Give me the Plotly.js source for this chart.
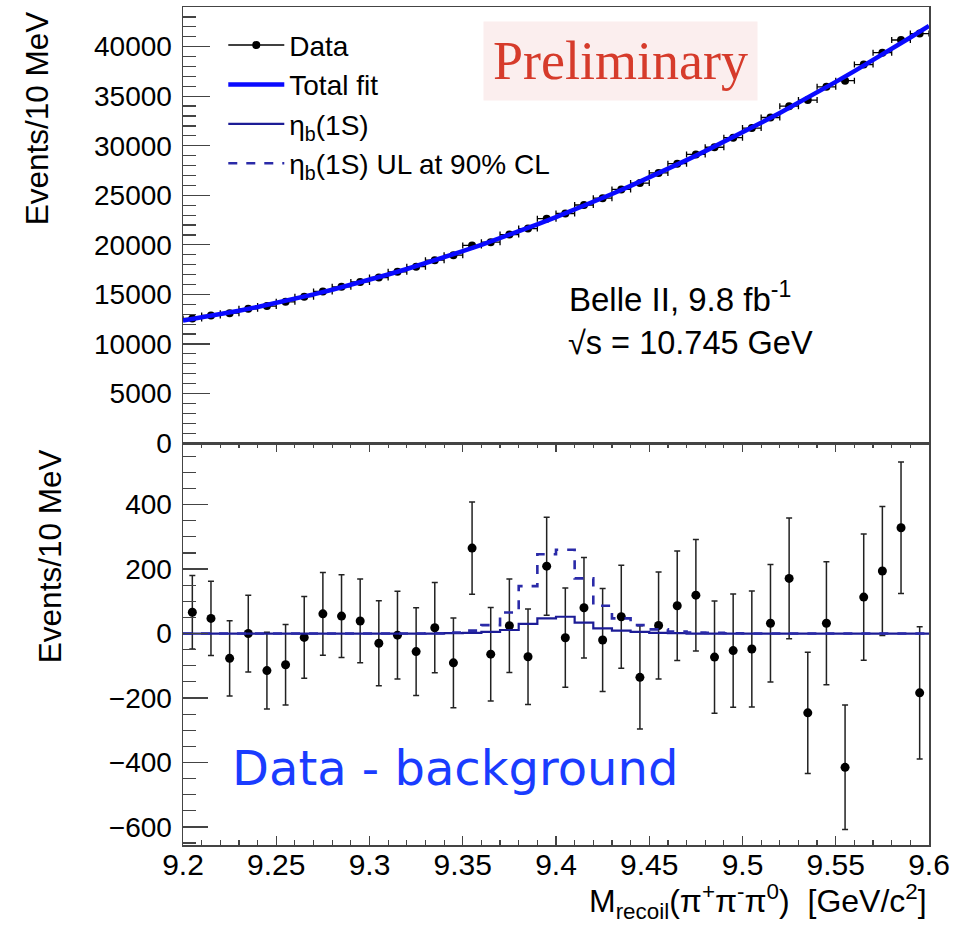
<!DOCTYPE html>
<html>
<head>
<meta charset="utf-8">
<script src="https://cdn.plot.ly/plotly-3.0.1.min.js"></script>
<style>html,body{margin:0;padding:0;background:#fff;}#chart{width:953px;height:927px;}</style>
</head>
<body>
<div id="chart"></div>
<script>
// ---- data ----
const binCenters = [9.205,9.215,9.225,9.235,9.245,9.255,9.265,9.275,9.285,9.295,
  9.305,9.315,9.325,9.335,9.345,9.355,9.365,9.375,9.385,9.395,
  9.405,9.415,9.425,9.435,9.445,9.455,9.465,9.475,9.485,9.495,
  9.505,9.515,9.525,9.535,9.545,9.555,9.565,9.575,9.585,9.595];
const binEdges = [9.20,9.21,9.22,9.23,9.24,9.25,9.26,9.27,9.28,9.29,
  9.30,9.31,9.32,9.33,9.34,9.35,9.36,9.37,9.38,9.39,
  9.40,9.41,9.42,9.43,9.44,9.45,9.46,9.47,9.48,9.49,
  9.50,9.51,9.52,9.53,9.54,9.55,9.56,9.57,9.58,9.59,9.60];
// total fit, sampled at the bin edges
const totalFit = [12350,12662,12997,13353,13732,14133,14555,15000,15467,15957,
  16468,17001,17557,18135,18735,19357,20001,20667,21355,22065,
  22798,23553,24329,25128,25949,26793,27658,28545,29455,30386,
  31340,32316,33314,34334,35376,36441,37527,38635,39766,40919,42094];
// events per bin (top panel)
const dataCounts = [12572,12877,13098,13543,13818,14247,14766,15295,15766,16252,
  16705,17274,17790,18453,18955,19944,20270,21035,21638,22641,
  23163,24021,24709,25591,26235,27251,28188,29119,29848,30810,
  31780,32847,33995,34609,35941,36569,38194,39395,40671,41323];
// data - background (bottom panel)
const residuals = [66,47,-77,0,-115,-97,-12,61,54,39,
  -30,-5,-56,18,-91,265,-64,24,-72,209,
  -13,80,-20,52,-136,25,86,119,-73,-53,
  -48,32,171,-246,32,-415,113,194,328,-184];
const residualErr = [114,115,117,119,119,125,127,128,128,130,
  132,136,136,140,139,143,145,145,148,152,
  154,156,160,160,160,166,170,173,174,176,
  180,182,187,188,191,193,196,200,204,205];
// eta_b(1S) signal and its 90% CL upper limit, per 10 MeV bin
const etabSignal = [0,0,0,0,0,0,0,0,0,0,
  0,0,0,0,1,2,5,11,30,47,
  52,34,16,9,5,2,1,0,0,0,
  0,0,0,0,0,0,0,0,0,0];
const etabUL = [0,0,0,0,0,0,0,0,0,0,
  0,0,0,1,3,9,26,65,147,246,
  260,171,86,47,26,13,6,3,2,1,
  0,0,0,0,0,0,0,0,0,0];

// ---- traces ----
const stepY = arr => arr.concat([arr[arr.length-1]]);
const navy = '#1c1c96';
const traces = [
  {x:[null], y:[null], xaxis:'x', yaxis:'y', type:'scatter', mode:'lines+markers',
   line:{color:'#000', width:1.5}, marker:{color:'#000', size:8}, name:'Data', legendrank:1},
  {x: binCenters, y: dataCounts, xaxis:'x', yaxis:'y', type:'scatter', mode:'markers',
   marker:{color:'#000', size:8}, showlegend:false,
   error_x:{type:'constant', value:0.005, color:'#000', thickness:1.3, width:3}},
  {x: binEdges, y: totalFit, xaxis:'x', yaxis:'y', type:'scatter', mode:'lines',
   line:{color:'#0a0aff', width:4.5}, name:'Total fit', legendrank:2},
  {x: binCenters, y: residuals, xaxis:'x2', yaxis:'y2', type:'scatter', mode:'markers',
   marker:{color:'#000', size:9}, showlegend:false,
   error_y:{type:'data', array: residualErr, color:'#222', thickness:1.5, width:3}},
  {x: binEdges, y: stepY(etabSignal), xaxis:'x2', yaxis:'y2', type:'scatter', mode:'lines',
   line:{color:navy, width:2.2, shape:'hv'}, name:'η<sub>b</sub>(1S)', legendrank:3},
  {x: binEdges, y: stepY(etabUL), xaxis:'x2', yaxis:'y2', type:'scatter', mode:'lines',
   line:{color:'#2a2aa8', width:2.6, shape:'hv', dash:'dash'}, name:'η<sub>b</sub>(1S) UL at 90% CL', legendrank:4}
];

const fam = 'Liberation Sans, Arial, sans-serif';
const yTickFont = {family:fam, size:28, color:'#000'};
const xTickFont = {family:fam, size:30, color:'#000'};
const frame = {showline:true, linecolor:'#444', linewidth:1.5, mirror:true, zeroline:false, showgrid:false};

const layout = {
  width:953, height:927,
  margin:{l:183, r:24, t:7, b:82},
  paper_bgcolor:'#fff', plot_bgcolor:'#fff',
  font:{family:fam, color:'#000'},
  showlegend:true,
  legend:{x:0.054, y:0.984, xanchor:'left', yanchor:'top', bgcolor:'rgba(0,0,0,0)',
    font:{size:28, family:fam}, traceorder:'normal', itemwidth:56},
  xaxis:Object.assign({}, frame, {domain:[0,1], range:[9.2,9.6], anchor:'y', matches:'x2',
    showticklabels:false, ticks:''}),
  yaxis:Object.assign({}, frame, {domain:[0.4797,1], range:[0,44000], anchor:'x',
    ticks:'inside', ticklen:27, tickwidth:1.3, tickcolor:'#444', dtick:5000, tick0:0,
    tickformat:'d', tickfont:yTickFont, ticklabelstandoff:4,
    minor:{ticks:'inside', ticklen:13, dtick:1000, tickcolor:'#444', tickwidth:1.2}}),
  xaxis2:Object.assign({}, frame, {domain:[0,1], range:[9.2,9.6], anchor:'y2',
    ticks:'inside', mirror:'allticks', ticklen:9, tickwidth:1.3, tickcolor:'#444', dtick:0.05, tick0:9.2,
    tickfont:xTickFont, ticklabelstandoff:-8,
    minor:{ticks:'inside', ticklen:5, dtick:0.01, tickcolor:'#444', tickwidth:1.2}}),
  yaxis2:Object.assign({}, frame, {domain:[0,0.4797], range:[-656,591], anchor:'x2',
    ticks:'inside', ticklen:25, tickwidth:1.3, tickcolor:'#444', dtick:200, tick0:0,
    tickfont:yTickFont, ticklabelstandoff:4,
    minor:{ticks:'inside', ticklen:13, dtick:50, tickcolor:'#444', tickwidth:1.2}}),
  annotations:[
    {text:'Preliminary', xref:'paper', yref:'paper', x:0.586, y:0.9355, yanchor:'middle', showarrow:false,
     font:{family:'Liberation Serif, Times New Roman, serif', size:54, color:'#d63b2b'},
     bgcolor:'#fbeeee', borderpad:9},
    {text:'Belle II, 9.8 fb<sup>-1</sup>', xref:'paper', yref:'paper', x:0.515, y:0.654,
     xanchor:'left', yanchor:'middle', showarrow:false, font:{size:33}},
    {text:'√s = 10.745 GeV', xref:'paper', yref:'paper', x:0.513, y:0.599,
     xanchor:'left', yanchor:'middle', showarrow:false, font:{size:32.5}},
    {text:'Data - background', xref:'paper', yref:'paper', x:0.063, y:0.092,
     xanchor:'left', yanchor:'middle', showarrow:false,
     font:{family:'DejaVu Sans, Verdana, sans-serif', size:48, color:'#1a3cff'}},
    {text:'Events/10 MeV', xref:'paper', yref:'paper', x:-0.196, y:0.997, textangle:-90,
     xanchor:'center', yanchor:'top', showarrow:false, font:{size:31.5}},
    {text:'Events/10 MeV', xref:'paper', yref:'paper', x:-0.178, y:0.475, textangle:-90,
     xanchor:'center', yanchor:'top', showarrow:false, font:{size:31.5}},
    {text:'M<sub>recoil</sub>(π<sup>+</sup>π<sup>-</sup>π<sup>0</sup>)  [GeV/c<sup>2</sup>]',
     xref:'paper', yref:'paper', x:1.0, y:-0.068, xanchor:'right', yanchor:'middle',
     showarrow:false, font:{size:32}}
  ]
};

Plotly.newPlot('chart', traces, layout, {displayModeBar:false, staticPlot:true});
</script>
</body>
</html>
